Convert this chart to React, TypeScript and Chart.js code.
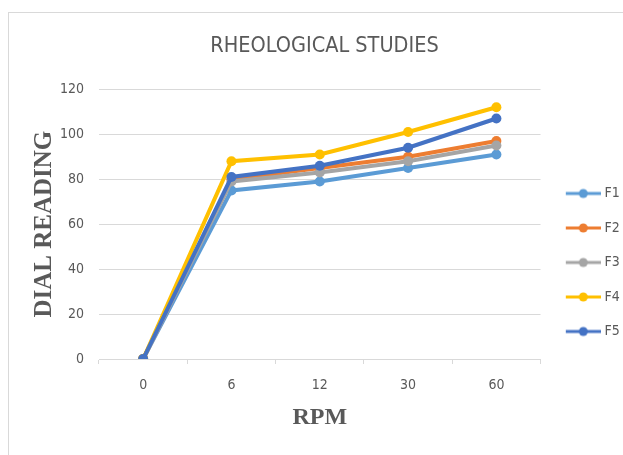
import React, { useEffect, useRef } from "react";
import { Chart, registerables } from "chart.js";
Chart.register(...registerables);

const categories = ["0", "6", "12", "30", "60"];
const seriesNames = ["F1", "F2", "F3", "F4", "F5"];
const f1 = [0, 75, 79, 85, 91];
const f2 = [0, 80, 85, 90, 97];
const f3 = [0, 79, 83, 88, 95];
const f4 = [0, 88, 91, 101, 112];
const f5 = [0, 81, 86, 94, 107];
const seriesValues = [f1, f2, f3, f4, f5];
const seriesColors = ["#5B9BD5", "#ED7D31", "#A5A5A5", "#FFC000", "#4472C4"];
const yMin = 0;
const yMax = 120;
const yStep = 20;
const titleText = "RHEOLOGICAL STUDIES";
const xTitle = "RPM";
const yTitle = "DIAL READING";

const TEXT = "#595959";
const GRID = "#d9d9d9";
const NARROW = "'DejaVu Sans Condensed', 'Open Sans', sans-serif";
const SERIF = "'Liberation Serif', 'DejaVu Serif', serif";

const CANVAS_W = 631;
const CANVAS_H = 442;
const SIDE_PAD = 10.2;

function makeMarker(color: string): HTMLCanvasElement {
  const c = document.createElement("canvas");
  c.width = 43;
  c.height = 12;
  const ctx = c.getContext("2d")!;
  ctx.strokeStyle = color;
  ctx.lineWidth = 3;
  ctx.beginPath();
  ctx.moveTo(8, 6);
  ctx.lineTo(43, 6);
  ctx.stroke();
  ctx.fillStyle = color;
  ctx.beginPath();
  ctx.arc(25.5, 6, 4.5, 0, Math.PI * 2);
  ctx.fill();
  return c;
}

export default function App() {
  const ref = useRef<HTMLCanvasElement | null>(null);

  useEffect(() => {
    if (!ref.current) return;
    const markers = seriesColors.map(makeMarker);
    const chart = new Chart(ref.current, {
      type: "line",
      data: {
        labels: categories,
        datasets: seriesNames.map((name, i) => ({
          label: name,
          data: seriesValues[i],
          borderColor: seriesColors[i],
          backgroundColor: seriesColors[i],
          pointBackgroundColor: seriesColors[i],
          pointBorderColor: seriesColors[i],
          borderWidth: 4,
          pointRadius: 5,
          pointBorderWidth: 0,
          tension: 0,
          order: seriesNames.length - i,
        })),
      },
      options: {
        animation: false,
        responsive: false,
        maintainAspectRatio: false,
        layout: { padding: { left: SIDE_PAD, right: SIDE_PAD, top: 0, bottom: 0 } },
        plugins: {
          title: {
            display: true,
            text: titleText,
            color: TEXT,
            font: { family: NARROW, size: 21.5, weight: "normal" },
            padding: { top: 21, bottom: 29.5 },
          },
          legend: {
            position: "right",
            align: "end",
            fullSize: false,
            labels: {
              usePointStyle: true,
              pointStyleWidth: 36.5,
              padding: 20.5,
              color: TEXT,
              font: { family: NARROW, size: 14 },
              generateLabels: () =>
                seriesNames.map((name, i) => ({
                  text: name,
                  pointStyle: markers[i],
                  fillStyle: seriesColors[i],
                  strokeStyle: seriesColors[i],
                  lineWidth: 0,
                  hidden: false,
                  datasetIndex: i,
                  fontColor: TEXT,
                })),
            },
          },
          tooltip: { enabled: false },
        },
        scales: {
          x: {
            offset: true,
            afterFit: (scale: any) => {
              scale.height = 96;
            },
            grid: {
              display: true,
              drawOnChartArea: false,
              drawTicks: true,
              tickLength: 5,
              color: GRID,
              offset: true,
            },
            border: { display: true, color: GRID, width: 1 },
            ticks: {
              color: TEXT,
              padding: 12.6,
              font: { family: NARROW, size: 14 },
            },
            title: {
              display: true,
              text: xTitle,
              color: TEXT,
              font: { family: SERIF, size: 24, weight: "bold" },
              padding: { top: 12, bottom: 22.6 },
            },
          },
          y: {
            min: yMin,
            max: yMax,
            afterFit: (scale: any) => {
              scale.width = 90 - SIDE_PAD;
            },
            ticks: {
              stepSize: yStep,
              color: TEXT,
              padding: 15,
              font: { family: NARROW, size: 14 },
            },
            grid: { color: GRID, drawTicks: false, lineWidth: 1 },
            border: { display: false },
            title: {
              display: true,
              text: yTitle,
              color: TEXT,
              font: { family: SERIF, size: 25, weight: "bold" },
              padding: { top: 10.3, bottom: 3 },
            },
          },
        },
      },
    });
    return () => chart.destroy();
  }, []);

  return (
    <div
      style={{
        position: "fixed",
        left: 8,
        top: 12,
        width: 615,
        height: 443,
        overflow: "hidden",
        background: "#fff",
      }}
    >
      <div
        style={{
          border: "1px solid #d9d9d9",
          width: 660,
          height: 470,
          background: "#fff",
          boxSizing: "border-box",
        }}
      >
        <canvas
          ref={ref}
          width={CANVAS_W}
          height={CANVAS_H}
          style={{ display: "block", width: CANVAS_W, height: CANVAS_H }}
        />
      </div>
    </div>
  );
}
